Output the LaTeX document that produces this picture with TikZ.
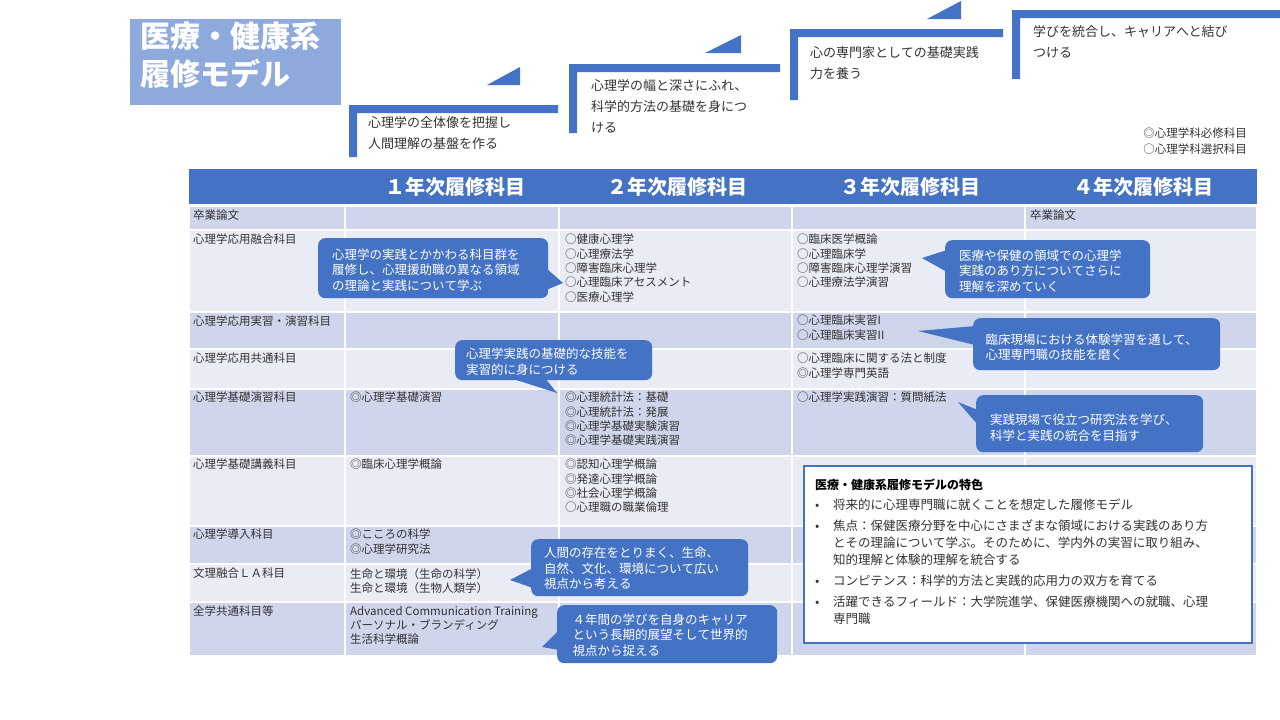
\documentclass[tikz,border=0pt]{standalone}
\usepackage{fontspec}
\setmainfont{Noto Sans CJK JP}
\XeTeXlinebreaklocale "ja"
\definecolor{hb}{HTML}{4472C4}
\definecolor{rd}{HTML}{CFD5EA}
\definecolor{rl}{HTML}{E9EBF5}
\definecolor{tb}{HTML}{8EA9DB}
\definecolor{tx}{HTML}{333333}
\begin{document}
\begin{tikzpicture}[x=1pt,y=-1pt,
  cell/.style={anchor=north west,inner sep=0pt,align=left,font=\fontsize{11.5}{14.3}\selectfont,text=tx},
  hdr/.style={font=\fontsize{20}{22}\selectfont\bfseries,text=white},
  call/.style={fill=hb,rounded corners=7pt,text=white,align=left,font=\fontsize{12.5}{15.5}\selectfont,inner sep=0pt,anchor=north west},
  steptxt/.style={anchor=north west,align=left,inner sep=0pt,font=\fontsize{13}{21}\selectfont,text=tx},
  bar/.style={fill=hb,draw=none}]
\useasboundingbox (0,0) rectangle (1280,720);
\fill[white] (0,0) rectangle (1280,720);
% title
\fill[tb] (130,19) rectangle (341,105);
\node[anchor=north west,align=left,inner sep=0pt,text=white,font=\fontsize{30}{38}\selectfont\bfseries] (title) at (140,22) {医療・健康系\\履修モデル};
% steps
\fill[bar] (349,157) -- (349,105) -- (558,105) -- (558,113) -- (357,113) -- (357,157) -- cycle;
\fill[bar] (487,85) -- (520,85) -- (520,67) -- cycle;
\fill[bar] (569,133) -- (569,64) -- (780,64) -- (780,72) -- (577,72) -- (577,133) -- cycle;
\fill[bar] (705,53) -- (741,53) -- (741,35) -- cycle;
\fill[bar] (790,100) -- (790,29) -- (1003,29) -- (1003,37) -- (798,37) -- (798,100) -- cycle;
\fill[bar] (927,19) -- (961,19) -- (961,1) -- cycle;
\fill[bar] (1012,79) -- (1012,10) -- (1280,10) -- (1280,18) -- (1020,18) -- (1020,79) -- cycle;
\node[steptxt] (s1) at (368,116) {心理学の全体像を把握し\\人間理解の基盤を作る};
\node[steptxt] (s2) at (591,79) {心理学の幅と深さにふれ、\\科学的方法の基礎を身につ\\ける};
\node[steptxt] (s3) at (810,46) {心の専門家としての基礎実践\\力を養う};
\node[steptxt] (s4) at (1033,25) {学びを統合し、キャリアへと結び\\つける};
\node[anchor=north east,align=left,inner sep=0pt,font=\fontsize{11.5}{15.5}\selectfont,text=tx] (leg) at (1247,128) {◎心理学科必修科目\\○心理学科選択科目};
% table
\def\cols{189/345,345/559,559/792,792/1025,1025/1257}
\foreach \a/\b in \cols {\fill[hb] (\a,169) rectangle (\b,204);}
\foreach \t/\bt/\c in {207/229/rd,231/311/rl,313/348/rd,350/388/rl,390/455/rd,457/525/rl,527/563/rd,565/601/rl,603/655/rd}{
  \foreach \a/\b in \cols {\fill[\c] (\a+1,\t) rectangle (\b-1,\bt);}
}
\node[hdr] (h1) at (455,187) {１年次履修科目};
\node[hdr] (h2) at (677,187) {２年次履修科目};
\node[hdr] (h3) at (910,187) {３年次履修科目};
\node[hdr] (h4) at (1143,187) {４年次履修科目};
% row labels
\node[cell] (r1) at (193,210) {卒業論文};
\node[cell] (r2) at (193,234) {心理学応用融合科目};
\node[cell] (r3) at (193,316) {心理学応用実習・演習科目};
\node[cell] (r4) at (193,353) {心理学応用共通科目};
\node[cell] (r5) at (193,392) {心理学基礎演習科目};
\node[cell] (r6) at (193,459) {心理学基礎講義科目};
\node[cell] (r7) at (193,529) {心理学導入科目};
\node[cell] (r8) at (193,568) {文理融合ＬＡ科目};
\node[cell] (r9) at (193,606) {全学共通科目等};
% contents
\node[cell] (c14) at (1030,210) {卒業論文};
\node[cell] (c22) at (565,234) {○健康心理学\\○心理療法学\\○障害臨床心理学\\○心理臨床アセスメント\\○医療心理学};
\node[cell] (c23) at (797,234) {○臨床医学概論\\○心理臨床学\\○障害臨床心理学演習\\○心理療法学演習};
\node[cell] (c33) at (797,315) {○心理臨床実習I\\○心理臨床実習II};
\node[cell] (c43) at (797,353) {○心理臨床に関する法と制度\\◎心理学専門英語};
\node[cell] (c51) at (350,392) {◎心理学基礎演習};
\node[cell] (c52) at (565,392) {◎心理統計法：基礎\\◎心理統計法：発展\\◎心理学基礎実験演習\\◎心理学基礎実践演習};
\node[cell] (c53) at (797,392) {○心理学実践演習：質問紙法};
\node[cell] (c61) at (350,459) {◎臨床心理学概論};
\node[cell] (c62) at (565,459) {◎認知心理学概論\\◎発達心理学概論\\◎社会心理学概論\\○心理職の職業倫理};
\node[cell] (c71) at (350,529) {◎こころの科学\\◎心理学研究法};
\node[cell] (c81) at (350,568) {生命と環境（生命の科学）\\生命と環境（生物人類学）};
\node[cell] (c91) at (350,606) {Advanced Communication Training\\パーソナル・ブランディング\\生活科学概論};
% callouts
\fill[hb] (546,268) -- (563,283) -- (546,290) -- cycle;
\node[call,minimum width=230pt,minimum height=60pt] (k1) at (318,238) {\hspace*{12pt}\parbox[t]{214pt}{\vspace{4pt}心理学の実践とかかわる科目群を\\履修し、心理援助職の異なる領域\\の理論と実践について学ぶ}};
\fill[hb] (510,378) -- (557,393) -- (545,378) -- cycle;
\node[call,minimum width=197pt,minimum height=40pt] (k2) at (455,340) {\hspace*{10pt}\parbox[t]{185pt}{\vspace{3pt}心理学実践の基礎的な技能を\\実習的に身につける}};
\fill[hb] (947,250) -- (922,258) -- (947,272) -- cycle;
\node[call,minimum width=205pt,minimum height=58pt] (k3) at (945,240) {\hspace*{13pt}\parbox[t]{190pt}{\vspace{4pt}医療や保健の領域での心理学\\実践のあり方についてさらに\\理解を深めていく}};
\fill[hb] (975,326) -- (918,331) -- (975,345) -- cycle;
\node[call,minimum width=247pt,minimum height=52pt] (k4) at (973,318) {\hspace*{12pt}\parbox[t]{234pt}{\vspace{6pt}臨床現場における体験学習を通して、\\心理専門職の技能を磨く}};
\fill[hb] (978,410) -- (958,402) -- (978,425) -- cycle;
\node[call,minimum width=227pt,minimum height=57pt] (k5) at (976,395) {\hspace*{13pt}\parbox[t]{212pt}{\vspace{8pt}実践現場で役立つ研究法を学び、\\科学と実践の統合を目指す}};
\fill[hb] (533,568) -- (510,580) -- (533,588) -- cycle;
\node[call,minimum width=217pt,minimum height=57pt] (k6) at (531,539) {\hspace*{12pt}\parbox[t]{203pt}{\vspace{2pt}人間の存在をとりまく、生命、\\自然、文化、環境について広い\\視点から考える}};
\fill[hb] (559,630) -- (542,647) -- (559,650) -- cycle;
\node[call,minimum width=220pt,minimum height=58pt] (k7) at (557,605) {\hspace*{14pt}\parbox[t]{203pt}{\vspace{2pt}４年間の学びを自身のキャリア\\という長期的展望そして世界的\\視点から捉える}};
% info box
\draw[hb,line width=2.5pt,fill=white] (804,466) rectangle (1252,643);
\node[anchor=north west,inner sep=0pt,font=\fontsize{12}{14}\selectfont\bfseries,text=black] (it) at (815,479) {医療・健康系履修モデルの特色};
\node[anchor=north west,inner sep=0pt,align=left,text=tx] (ib) at (815,499) {%
\begin{minipage}[t]{430pt}\fontsize{12.5}{17}\selectfont
\makebox[18pt][l]{•}将来的に心理専門職に就くことを想定した履修モデル\par\vspace{4pt}
\hangindent=18pt\makebox[18pt][l]{•}焦点：保健医療分野を中心にさまざまな領域における実践のあり方\\とその理論について学ぶ。そのために、学内外の実習に取り組み、\\知的理解と体験的理解を統合する\par\vspace{4pt}
\makebox[18pt][l]{•}コンピテンス：科学的方法と実践的応用力の双方を育てる\par\vspace{4pt}
\hangindent=18pt\makebox[18pt][l]{•}活躍できるフィールド：大学院進学、保健医療機関への就職、心理\\専門職
\end{minipage}};
\end{tikzpicture}
\end{document}
